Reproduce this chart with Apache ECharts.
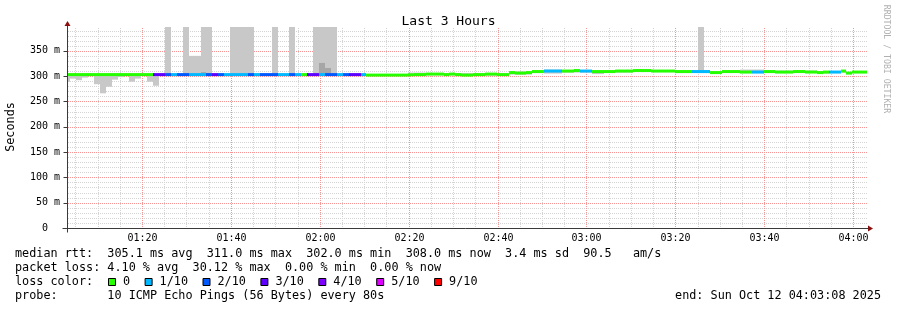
<!DOCTYPE html>
<html><head><meta charset="utf-8">
<script src="https://cdn.jsdelivr.net/npm/echarts@6/dist/echarts.min.js"></script>
<style>html,body{margin:0;padding:0;background:#fff}#c{width:897px;height:310px}</style>
</head><body><div id="c"></div>
<script>
// ---------------- data ----------------
const chartTitle = 'Last 3 Hours';
const yAxisName = 'Seconds';
const startTime = '01:03:08';
const endTime = '04:03:08';
const firstSampleStart = '01:02:31';
const stepSeconds = 80;
const yMax = 397;

const xTickLabels = ['01:20','01:40','02:00','02:20','02:40','03:00','03:20','03:40','04:00'];
const yTickValues = [0,50,100,150,200,250,300,350];
const yTickLabels = ['0  ','50 m','100 m','150 m','200 m','250 m','300 m','350 m'];

// median rtt per 80 s sample (ms)
const median = [
 303,303,303,303,303,303,303,303,303,303,303,303,303,303,303,
 303,303,303,303,303,303,303,303,303,303,303,303,303,303,303,303,303,303,303,303,303,303,303,303,303,303,303,303,303,303,303,303,303,303,303,303,
 302,302,302,302,302,302,302,
 302.5,303,303,304,304,304,303,304,303,302,302,303,303,304,304,303,303,
 307,306,306,307,309,309,
 310,310,310,310,310,311,310,310,
 309,309,309,309,310,310,310,
 311,311,311,310,310,310,310,
 309,309,309,309,309,309,
 307,307,
 309,309,309,
 308,308,308,308,
 309,309,
 308,308,308,
 309,309,
 308,308,
 307,
 308,308,308,
 310,306,308,308,308
];
// lost pings out of 10 per sample
const lossCount = [
 0,0,0,0,0,0,0,0,0,0,0,0,0,0,0,
 3,3,2,1,2,2,1,1,1,2,3,2,1,1,1,1,2,1,2,2,2,1,1,2,1,0,3,3,1,2,2,1,2,3,3,1,
 0,0,0,0,0,0,0,0,0,0,0,0,0,0,0,0,0,0,0,0,0,0,0,0,0,0,0,0,0,0,
 1,1,1,
 0,0,0,
 1,1,
 0,0,0,0,0,0,0,0,0,0,0,0,0,0,0,0,0,
 1,1,1,
 0,0,0,0,0,0,0,
 1,1,
 0,0,0,0,0,0,0,0,0,0,0,
 1,1,
 0,0,0,0,0
];
// smoke: lowest and highest ping per sample (ms)
const smokeLo = [
 289,295,292,297,300,284,266,279,293,298,303,289,295,303,289,281,
 303,303,303,303,303,303,303,303,303,303,303,303,303,303,303,303,303,303,303,303,303,303,303,303,303,303,303,303,303,303,303,303,303,303,303,
 301,301,301,301,301,301,301,
 301,301,301,
 302,302,302,302,302,
 301,301,301,
 301,301,301,301,301,301,
 303,303,303,303,
 306,306,
 305,305,305,
 307,307,307,307,307,
 304,304,
 307,307,307,307,307,
 308,308,308,
 308,308,308,308,
 306,306,306,
 307,306,306,
 305,305,
 307,307,307,
 306,306,306,306,
 306,306,306,306,306,
 307,307,307,307,
 305,305,
 306,306,
 307,304,306,306,306
];
const smokeHi = [
 303,303,303,303,303,303,303,303,303,303,303,303,303,303,303,303,303,
 400,303,303,400,340,340,400,400,303,303,303,400,400,400,400,303,303,303,400,303,303,400,303,303,303,400,400,400,400,303,303,303,303,303,
 303,303,303,303,303,303,303,
 307,307,307,
 306,306,306,306,306,
 306,306,306,
 305,305,305,305,305,305,
 310,309,309,309,
 311,311,
 313,313,313,
 312,312,312,312,312,
 311,311,
 311,311,311,311,311,
 313,313,313,
 312,312,312,312,
 311,311,311,
 311,400,311,
 309,309,
 311,311,311,
 313,313,313,313,
 311,311,311,311,311,
 311,311,311,311,
 310,310,
 310,310,
 312,308,310,310,310
];
// inner (denser) smoke above the median
const innerSmokeAt = [23,24,43,44];
const innerSmokeHi = [308,306,326,316];

const lossLegendLabels = ['0','1/10','2/10','3/10','4/10','5/10','9/10'];
const lossLegendLevels = [0,1,2,3,4,5,9];
const lossLegendColors = ['#26ff00','#00b8ff','#0059ff','#5e00ff','#7e00ff','#dd00ff','#ff0000'];

const statsLine1 = 'median rtt:  305.1 ms avg  311.0 ms max  302.0 ms min  308.0 ms now  3.4 ms sd  90.5   am/s';
const statsLine2 = 'packet loss: 4.10 % avg  30.12 % max  0.00 % min  0.00 % now';
const lossColorLabel = 'loss color:';
const probeLine = 'probe:       10 ICMP Echo Pings (56 Bytes) every 80s';
const endLine = 'end: Sun Oct 12 04:03:08 2025';
const rrdTag = 'RRDTOOL / TOBI OETIKER';

// ---------------- helpers ----------------
function hms(s){const p=s.split(':').map(Number);return p[0]*3600+p[1]*60+(p[2]||0);}
const X0 = hms(startTime), X1 = hms(endTime), T0 = hms(firstSampleStart);
const mono = 'DejaVu Sans Mono';
function lossColor(n){let c=lossLegendColors[0];for(let k=0;k<lossLegendLevels.length;k++){if(n>=lossLegendLevels[k])c=lossLegendColors[k];}return c;}

const samples = median.map((m,i)=>[T0+i*stepSeconds, T0+(i+1)*stepSeconds, m, lossCount[i], smokeLo[i], smokeHi[i]]);
const innerSamples = innerSmokeAt.map((i,k)=>[T0+i*stepSeconds, T0+(i+1)*stepSeconds, median[i], innerSmokeHi[k]]);

function rectBetween(api,t0,t1,v0,v1){
  const a = api.coord([Math.max(t0,X0), Math.min(Math.max(v0,v1),yMax)]);
  const b = api.coord([Math.min(t1,X1), Math.max(Math.min(v0,v1),0)]);
  const x0 = Math.round(a[0]), x1 = Math.round(b[0]);
  return {x:x0, y:a[1], width:Math.max(0,x1-x0), height:b[1]-a[1]};
}

// grid lines (dotted): drawn as rows of 1px dots so every pixel is crisp
const majorX = xTickLabels.map(hms);
const minorXItems = [], minorYItems = [];
for (let t = Math.ceil(X0/300)*300; t <= X1; t += 300) { if (majorX.indexOf(t) < 0) minorXItems.push([t,0]); }
for (let v = 10; v < yMax; v += 10) { if (v % 50 !== 0) minorYItems.push([X0,v]); }
const majorXItems = majorX.map(t=>[t,0]);
const majorYItems = yTickValues.filter(v=>v>0).map(v=>[X0,v]);

const minorColor = '#d4d4d4';
const majorColor = '#f79595';

function vDots(color){return (p,api)=>{const t=api.value(0);const a=api.coord([t,0]);const b=api.coord([t,yMax]);const x=Math.round(a[0]);
  const y0=Math.round(b[1]), y1=Math.round(a[1]); const ch=[];
  for(let y=y1-2;y>=y0;y-=2) ch.push({type:'rect',shape:{x:x,y:y,width:1,height:1},style:{fill:color}});
  return {type:'group',children:ch};};}
function hDots(color){return (p,api)=>{const v=api.value(1);const a=api.coord([X0,v]);const b=api.coord([X1,v]);const y=Math.round(a[1]);
  const x0=Math.round(a[0]), x1=Math.round(b[0]); const ch=[];
  for(let x=x0+1;x<x1;x+=2) ch.push({type:'rect',shape:{x:x,y:y,width:1,height:1},style:{fill:color}});
  return {type:'group',children:ch};};}

const option = {
  animation:false,
  backgroundColor:'#ffffff',
  title:{text:chartTitle,left:'center',top:10,textStyle:{fontFamily:mono,fontSize:13,fontWeight:'normal',color:'#000'}},
  grid:{left:67,right:30,top:27,bottom:82},
  xAxis:{type:'value',min:X0,max:X1,show:false},
  yAxis:{type:'value',min:0,max:yMax,interval:50,
    axisLine:{show:false},axisTick:{show:false},splitLine:{show:false},
    axisLabel:{fontFamily:mono,fontSize:10,color:'#000',margin:7,
      formatter:v=>{const k=yTickValues.indexOf(v);return k>=0?yTickLabels[k]:'';}}},
  series:[
    {type:'custom',name:'minorX',data:minorXItems,z:1,silent:true,clip:false,renderItem:vDots(minorColor)},
    {type:'custom',name:'minorY',data:minorYItems,z:1,silent:true,clip:false,renderItem:hDots(minorColor)},
    {type:'custom',name:'majorX',data:majorXItems,z:1,silent:true,clip:false,renderItem:vDots(majorColor)},
    {type:'custom',name:'majorY',data:majorYItems,z:1,silent:true,clip:false,renderItem:hDots(majorColor)},
    {type:'custom',name:'smoke',data:samples,z:2,silent:true,clip:true,
     renderItem:(p,api)=>({type:'rect',shape:rectBetween(api,api.value(0),api.value(1),api.value(4),api.value(5)),style:{fill:'#c8c8c8'}})},
    {type:'custom',name:'innerSmoke',data:innerSamples,z:3,silent:true,clip:true,
     renderItem:(p,api)=>({type:'rect',shape:rectBetween(api,api.value(0),api.value(1),api.value(2),api.value(3)),style:{fill:'#a6a6a6'}})},
    {type:'custom',name:'median',data:samples,z:4,silent:true,clip:true,
     renderItem:(p,api)=>{
       const t0=Math.max(api.value(0),X0), t1=Math.min(api.value(1),X1);
       const a=api.coord([t0,api.value(2)]);const b=api.coord([t1,api.value(2)]);
       const x0=Math.round(a[0]), x1=Math.round(b[0]);
       return {type:'rect',shape:{x:x0,y:a[1]-1.5,width:Math.max(0,x1-x0),height:3},style:{fill:lossColor(api.value(3))}};
     }},
    {type:'custom',name:'axes',data:[[X0,0]],z:10,silent:true,clip:false,
     renderItem:(p,api)=>{
       const o=api.coord([X0,0]);const e=api.coord([X1,0]);const top=api.coord([X0,yMax]);
       const ox=Math.round(o[0])+0.5, oy=Math.round(o[1])+0.5;
       const children=[
         {type:'line',shape:{x1:ox-5,y1:oy,x2:e[0]+2,y2:oy},style:{stroke:'#3a3a3a',lineWidth:1}},
         {type:'line',shape:{x1:ox,y1:oy+4,x2:ox,y2:top[1]-3},style:{stroke:'#3a3a3a',lineWidth:1}},
         {type:'polygon',shape:{points:[[ox-3,top[1]-1],[ox+3,top[1]-1],[ox,top[1]-6]]},style:{fill:'#8b1010'}},
         {type:'polygon',shape:{points:[[e[0]+1,oy-3],[e[0]+1,oy+3],[e[0]+6,oy]]},style:{fill:'#8b1010'}}
       ];
       yTickValues.forEach(v=>{ if(v>0){const c=api.coord([X0,v]);const y=Math.round(c[1])+0.5;children.push({type:'line',shape:{x1:ox-4,y1:y,x2:ox,y2:y},style:{stroke:'#3a3a3a',lineWidth:1}});}});
       majorX.forEach((t,k)=>{const c=api.coord([t,0]);
         children.push({type:'text',x:Math.round(c[0])+0.5,y:c[1]+10,style:{text:xTickLabels[k],font:'10px '+mono,fill:'#000',align:'center',verticalAlign:'middle',textAlign:'center',textVerticalAlign:'middle'}});});
       return {type:'group',children};
     }}
  ],
  graphic:[]
};

// texts
function txt(x,y,s,opts){return Object.assign({type:'text',x:x,y:y,silent:true,style:{text:s,font:'11.8px '+mono,fill:'#000',align:'left',verticalAlign:'middle',textAlign:'left',textVerticalAlign:'middle'}},opts||{});}
const g = option.graphic;
g.push({type:'text',x:11,y:127,rotation:Math.PI/2,silent:true,style:{text:yAxisName,font:'11.8px '+mono,fill:'#000',align:'center',verticalAlign:'middle',textAlign:'center',textVerticalAlign:'middle'}});
g.push({type:'text',x:886,y:59,rotation:-Math.PI/2,silent:true,style:{text:rrdTag,font:'8.2px '+mono,fill:'#b0b0b0',align:'center',verticalAlign:'middle',textAlign:'center',textVerticalAlign:'middle'}});
g.push(txt(15,254,statsLine1));
g.push(txt(15,268,statsLine2));
g.push(txt(15,282,lossColorLabel));
g.push(txt(15,296,probeLine));
g.push({type:'text',x:881,y:296,silent:true,style:{text:endLine,font:'11.8px '+mono,fill:'#000',align:'right',verticalAlign:'middle',textAlign:'right',textVerticalAlign:'middle'}});
let bx = 108;
lossLegendLabels.forEach((lab,k)=>{
  g.push({type:'rect',x:0,y:0,silent:true,shape:{x:bx+0.5,y:278.5,width:7,height:7},style:{fill:lossLegendColors[k],stroke:'#000',lineWidth:1}});
  const tx = bx+15;
  g.push(txt(tx,282,lab));
  bx = tx + lab.length*7.1 + 14.5;
});

const chart = echarts.init(document.getElementById('c'),null,{renderer:'canvas',width:897,height:310});
chart.setOption(option);
</script></body></html>
